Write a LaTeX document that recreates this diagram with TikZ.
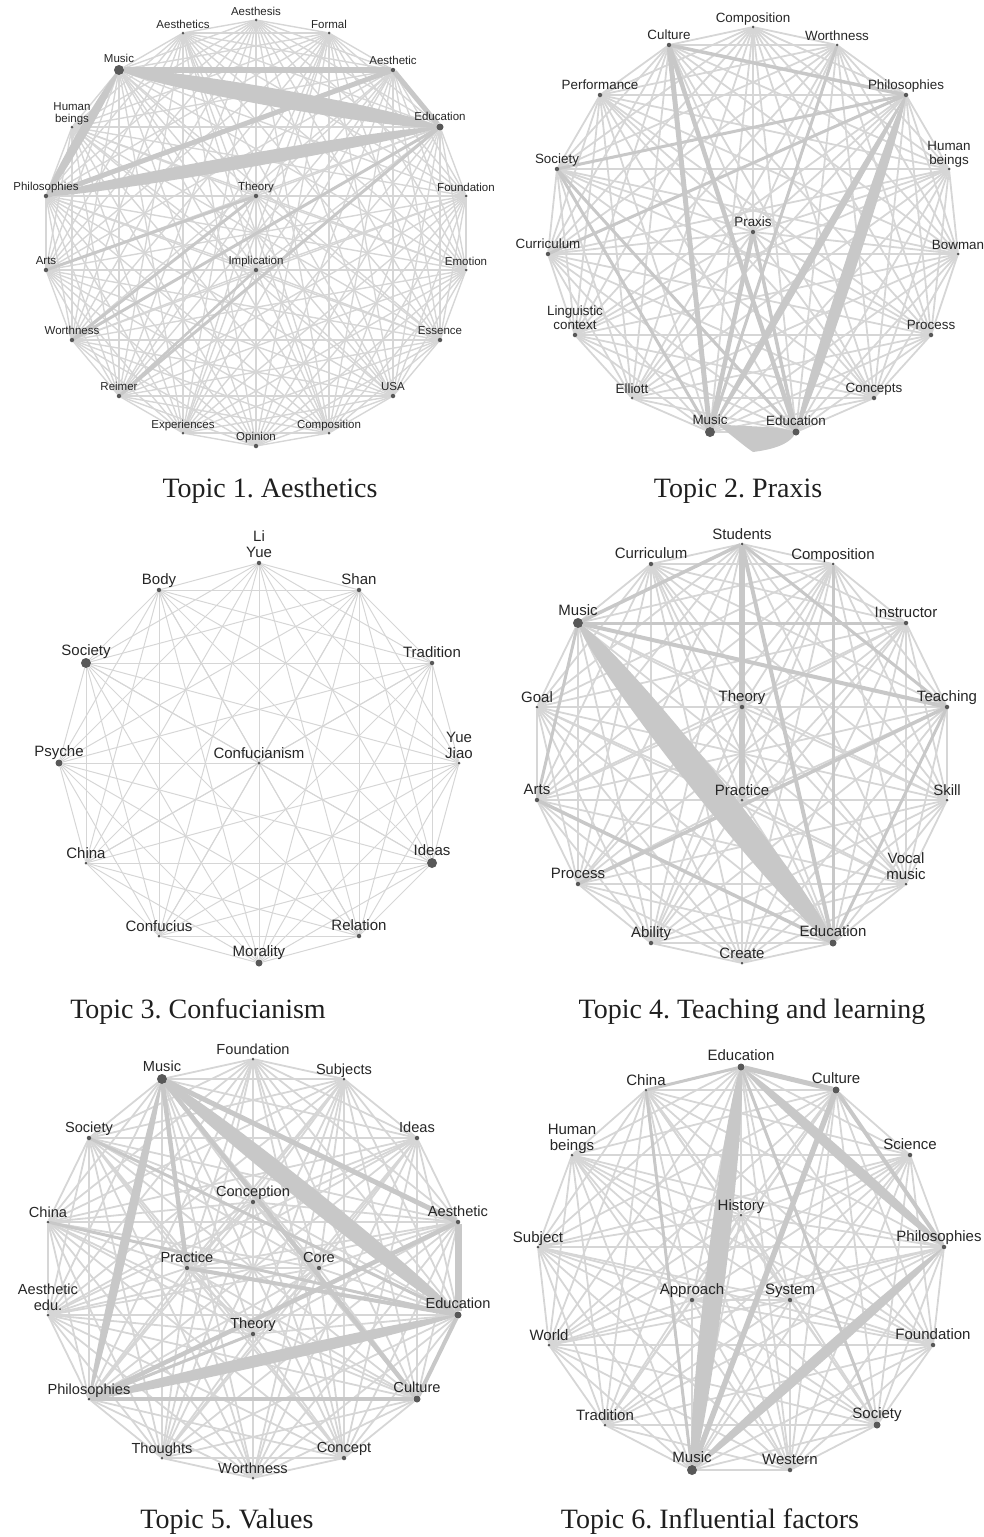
\documentclass[tikz,border=0pt]{standalone}
\usepackage{fontspec}
\setmainfont{Liberation Serif}
\setsansfont{Liberation Sans}
\usetikzlibrary{calc,backgrounds}
\frenchspacing

\definecolor{meshgray}{RGB}{214,214,214}
\definecolor{heavygray}{RGB}{200,200,200}
\definecolor{dotgray}{RGB}{88,88,88}
\definecolor{labelgray}{RGB}{38,38,38}

% tapered heavy edge between two nodes, #3 = bulge
\newcommand{\lensedge}[3]{%
  \fill[heavygray] (#1.center) .. controls ($(#1.center)!0.1!(#2.center)!#3!90:(#2.center)$) and ($(#1.center)!0.9!(#2.center)!#3!90:(#2.center)$) .. (#2.center) .. controls ($(#1.center)!0.9!(#2.center)!#3!-90:(#2.center)$) and ($(#1.center)!0.1!(#2.center)!#3!-90:(#2.center)$) .. (#1.center) -- cycle;}
% all pairs of a node list
\newcommand{\meshall}[1]{%
  \foreach \a [count=\i] in #1 {\foreach \b [count=\j] in #1 {\ifnum\i<\j \draw[mesh] (\a) -- (\b);\fi}}}

\begin{document}
\begin{tikzpicture}[x=1pt,y=1pt,yscale=-1,
  dot/.style={circle,fill=dotgray,inner sep=0pt,minimum size=4.5pt},
  dots/.style={dot,minimum size=3pt},
  dotm/.style={dot,minimum size=7pt},
  dotl/.style={dot,minimum size=10pt},
  every label/.style={text=labelgray,inner xsep=0pt,inner ysep=2.5pt,text depth=0pt,align=center},
  label position=above, label distance=0pt,
  mesh/.style={draw=meshgray,line width=1.8pt},
  heavy/.style={draw=heavygray},
  caption/.style={anchor=base,text=black!88,font=\fontsize{28}{30}\selectfont}]
\useasboundingbox (0,0) rectangle (983,1537);

% Topic 1
\begin{scope}[every label/.append style={font=\sffamily\fontsize{11.5}{12.5}\selectfont}]
\node[dots] (t1aesthesis) at (256,20) [label={Aesthesis}] {};
\node[dots] (t1formal) at (329,33) [label={Formal}] {};
\node[dot] (t1aesthetic) at (393,70) [label={Aesthetic}] {};
\node[dotm] (t1education) at (440,127) [label={Education}] {};
\node[dots] (t1foundation) at (466,196) [label={Foundation}] {};
\node[dots] (t1emotion) at (466,270) [label={Emotion}] {};
\node[dot] (t1essence) at (440,340) [label={Essence}] {};
\node[dot] (t1usa) at (393,396) [label={USA}] {};
\node[dots] (t1composition) at (329,433) [label={Composition}] {};
\node[dot] (t1opinion) at (256,446) [label={Opinion}] {};
\node[dots] (t1experiences) at (183,433) [label={Experiences}] {};
\node[dot] (t1reimer) at (119,396) [label={Reimer}] {};
\node[dot] (t1worthness) at (72,340) [label={Worthness}] {};
\node[dot] (t1arts) at (46,270) [label={Arts}] {};
\node[dot] (t1philosophies) at (46,196) [label={Philosophies}] {};
\node[dots] (t1humanbeings) at (72,127) [label={Human\\beings}] {};
\node[dotl] (t1music) at (119,70) [label={Music}] {};
\node[dots] (t1aesthetics) at (183,33) [label={Aesthetics}] {};
\node[dot] (t1theory) at (256,196) [label={Theory}] {};
\node[dot] (t1implication) at (256,270) [label={Implication}] {};
\end{scope}
\begin{scope}[on background layer,mesh/.append style={line width=1.4pt}]
\meshall{{t1aesthesis,t1formal,t1aesthetic,t1education,t1foundation,t1emotion,t1essence,t1usa,t1composition,t1opinion,t1experiences,t1reimer,t1worthness,t1arts,t1philosophies,t1humanbeings,t1music,t1aesthetics,t1theory,t1implication}}
\draw[heavy,line width=3pt] (t1education) -- (t1worthness);
\draw[heavy,line width=3pt] (t1education) -- (t1reimer);
\draw[heavy,line width=3pt] (t1theory) -- (t1worthness);
\draw[heavy,line width=3pt] (t1theory) -- (t1arts);
\draw[heavy,line width=2.5pt] (t1implication) -- (t1reimer);
\draw[heavy,line width=6pt] (t1music) -- (t1aesthetic);
\draw[heavy,line width=5pt] (t1philosophies) -- (t1aesthetic);
\draw[heavy,line width=5pt] (t1aesthetic) -- (t1education);
\lensedge{t1music}{t1philosophies}{6pt}
\lensedge{t1philosophies}{t1education}{9pt}
\lensedge{t1music}{t1education}{12pt}
\end{scope}

% Topic 2
\begin{scope}[every label/.append style={font=\sffamily\fontsize{13.4}{14.5}\selectfont}]
\node[dots] (t2composition) at (753,27) [label={Composition}] {};
\node[dots] (t2worthness) at (837,45) [label={Worthness}] {};
\node[dot] (t2philosophies) at (906,95) [label={Philosophies}] {};
\node[dots] (t2humanbeings) at (949,169) [label={Human\\beings}] {};
\node[dots] (t2bowman) at (958,254) [label={Bowman}] {};
\node[dot] (t2process) at (931,335) [label={Process}] {};
\node[dot] (t2concepts) at (874,398) [label={Concepts}] {};
\node[dotm] (t2education) at (796,432) [label={Education}] {};
\node[dotl] (t2music) at (710,432) [label={Music}] {};
\node[dots] (t2elliott) at (632,398) [label={Elliott}] {};
\node[dot] (t2linguistic) at (575,335) [label={Linguistic\\context}] {};
\node[dot] (t2curriculum) at (548,254) [label={Curriculum}] {};
\node[dot] (t2society) at (557,169) [label={Society}] {};
\node[dot] (t2performance) at (600,95) [label={Performance}] {};
\node[dot] (t2culture) at (669,45) [label={Culture}] {};
\node[dot] (t2praxis) at (753,232) [label={Praxis}] {};
\end{scope}
\begin{scope}[on background layer]
\meshall{{t2composition,t2worthness,t2philosophies,t2humanbeings,t2bowman,t2process,t2concepts,t2education,t2music,t2elliott,t2linguistic,t2curriculum,t2society,t2performance,t2culture,t2praxis}}
\draw[heavy,line width=3pt] (t2society) -- (t2education);
\draw[heavy,line width=3pt] (t2society) -- (t2music);
\draw[heavy,line width=3pt] (t2society) -- (t2philosophies);
\draw[heavy,line width=3pt] (t2curriculum) -- (t2philosophies);
\draw[heavy,line width=3pt] (t2worthness) -- (t2music);
\draw[heavy,line width=3.5pt] (t2culture) -- (t2philosophies);
\draw[heavy,line width=4.5pt] (t2culture) -- (t2education);
\draw[heavy,line width=5pt] (t2culture) -- (t2music);
\draw[heavy,line width=4.5pt] (t2praxis) -- (t2music);
\draw[heavy,line width=3.5pt] (t2praxis) -- (t2education);
\lensedge{t2philosophies}{t2music}{5pt}
\lensedge{t2philosophies}{t2education}{8pt}
\fill[heavygray] (t2education.center) .. controls (790,446) and (768,450) .. (753,452) .. controls (744,446) and (730,434) .. (717,424) .. controls (740,427) and (775,425) .. (t2education.center) -- cycle;
\end{scope}

% Topic 3
\begin{scope}[every label/.append style={font=\sffamily\fontsize{15}{16.5}\selectfont}]
\node[dot] (t3liyue) at (259,563) [label={Li\\Yue}] {};
\node[dot] (t3shan) at (359,590) [label={Shan}] {};
\node[dot] (t3tradition) at (432,663) [label={Tradition}] {};
\node[dots] (t3yuejiao) at (459,763) [label={Yue\\Jiao}] {};
\node[dotl] (t3ideas) at (432,863) [label={Ideas}] {};
\node[dot] (t3relation) at (359,936) [label={Relation}] {};
\node[dotm] (t3morality) at (259,963) [label={Morality}] {};
\node[dots] (t3confucius) at (159,936) [label={Confucius}] {};
\node[dots] (t3china) at (86,863) [label={China}] {};
\node[dotm] (t3psyche) at (59,763) [label={Psyche}] {};
\node[dotl] (t3society) at (86,663) [label={Society}] {};
\node[dot] (t3body) at (159,590) [label={Body}] {};
\node[dots] (t3confucianism) at (259,763) [label={Confucianism}] {};
\end{scope}
\begin{scope}[on background layer,mesh/.append style={line width=1pt,draw=black!16}]
\meshall{{t3liyue,t3shan,t3tradition,t3yuejiao,t3ideas,t3relation,t3morality,t3confucius,t3china,t3psyche,t3society,t3body,t3confucianism}}
\end{scope}

% Topic 4
\begin{scope}[every label/.append style={font=\sffamily\fontsize{15}{16.5}\selectfont}]
\node[dots] (t4students) at (742,544) [label={Students}] {};
\node[dots] (t4composition) at (833,564) [label={Composition}] {};
\node[dot] (t4instructor) at (906,623) [label={Instructor}] {};
\node[dot] (t4teaching) at (947,707) [label={Teaching}] {};
\node[dots] (t4skill) at (947,800) [label={Skill}] {};
\node[dots] (t4vocal) at (906,884) [label={Vocal\\music}] {};
\node[dotm] (t4education) at (833,943) [label={Education}] {};
\node[dots] (t4create) at (742,963) [label={Create}] {};
\node[dot] (t4ability) at (651,943) [label={Ability}] {};
\node[dot] (t4process) at (578,884) [label={Process}] {};
\node[dot] (t4arts) at (537,800) [label={Arts}] {};
\node[dots] (t4goal) at (537,707) [label={Goal}] {};
\node[dotl] (t4music) at (578,623) [label={Music}] {};
\node[dot] (t4curriculum) at (651,564) [label={Curriculum}] {};
\node[dot] (t4theory) at (742,707) [label={Theory}] {};
\node[dots] (t4practice) at (742,800) [label={Practice}] {};
\end{scope}
\begin{scope}[on background layer]
\meshall{{t4students,t4composition,t4instructor,t4teaching,t4skill,t4vocal,t4education,t4create,t4ability,t4process,t4arts,t4goal,t4music,t4curriculum,t4theory,t4practice}}
\draw[heavy,line width=3pt] (t4composition) -- (t4education);
\draw[heavy,line width=3pt] (t4teaching) -- (t4education);
\draw[heavy,line width=3pt] (t4students) -- (t4teaching);
\draw[heavy,line width=3pt] (t4music) -- (t4instructor);
\draw[heavy,line width=3pt] (t4music) -- (t4arts);
\draw[heavy,line width=3.5pt] (t4arts) -- (t4education);
\draw[heavy,line width=3.5pt] (t4process) -- (t4teaching);
\draw[heavy,line width=3.5pt] (t4music) -- (t4students);
\draw[heavy,line width=4pt] (t4music) -- (t4teaching);
\draw[heavy,line width=4pt] (t4students) -- (t4education);
\draw[heavy,line width=6pt] (t4students) -- (t4practice);
\lensedge{t4music}{t4education}{19pt}
\end{scope}

% Topic 5
\begin{scope}[every label/.append style={font=\sffamily\fontsize{14.6}{16}\selectfont}]
\node[dots] (t5foundation) at (253,1059) [label={Foundation}] {};
\node[dots] (t5subjects) at (344,1079) [label={Subjects}] {};
\node[dot] (t5ideas) at (417,1138) [label={Ideas}] {};
\node[dot] (t5aesthetic) at (458,1222) [label={Aesthetic}] {};
\node[dotm] (t5education) at (458,1315) [label={Education}] {};
\node[dotm] (t5culture) at (417,1399) [label={Culture}] {};
\node[dot] (t5concept) at (344,1458) [label={Concept}] {};
\node[dots] (t5worthness) at (253,1478) [label={Worthness}] {};
\node[dots] (t5thoughts) at (162,1458) [label={Thoughts}] {};
\node[dots] (t5philosophies) at (89,1399) [label={Philosophies}] {};
\node[dots] (t5aestheticedu) at (48,1315) [label={Aesthetic\\edu.}] {};
\node[dots] (t5china) at (48,1222) [label={China}] {};
\node[dot] (t5society) at (89,1138) [label={Society}] {};
\node[dotl] (t5music) at (162,1079) [label={Music}] {};
\node[dot] (t5conception) at (253,1202) [label={Conception}] {};
\node[dot] (t5practice) at (187,1268) [label={Practice}] {};
\node[dot] (t5core) at (319,1268) [label={Core}] {};
\node[dot] (t5theory) at (253,1334) [label={Theory}] {};
\end{scope}
\begin{scope}[on background layer]
\meshall{{t5foundation,t5subjects,t5ideas,t5aesthetic,t5education,t5culture,t5concept,t5worthness,t5thoughts,t5philosophies,t5aestheticedu,t5china,t5society,t5music,t5conception,t5practice,t5core,t5theory}}
\draw[heavy,line width=3pt] (t5china) -- (t5education);
\draw[heavy,line width=3pt] (t5society) -- (t5education);
\draw[heavy,line width=3pt] (t5philosophies) -- (t5theory);
\draw[heavy,line width=4pt] (t5education) -- (t5culture);
\draw[heavy,line width=4pt] (t5practice) -- (t5education);
\draw[heavy,line width=4pt] (t5philosophies) -- (t5culture);
\draw[heavy,line width=4.5pt] (t5philosophies) -- (t5aesthetic);
\draw[heavy,line width=4.5pt] (t5music) -- (t5practice);
\draw[heavy,line width=4.5pt] (t5music) -- (t5culture);
\draw[heavy,line width=5pt] (t5music) -- (t5aesthetic);
\draw[heavy,line width=7pt] (t5aesthetic) -- (t5education);
\lensedge{t5music}{t5philosophies}{6pt}
\lensedge{t5philosophies}{t5education}{8pt}
\lensedge{t5music}{t5education}{12pt}
\end{scope}

% Topic 6
\begin{scope}[every label/.append style={font=\sffamily\fontsize{15}{16.5}\selectfont}]
\node[dotm] (t6education) at (741,1067) [label={Education}] {};
\node[dotm] (t6culture) at (836,1090) [label={Culture}] {};
\node[dot] (t6science) at (910,1155) [label={Science}] {};
\node[dot] (t6philosophies) at (944,1247) [label={[xshift=-5pt]Philosophies}] {};
\node[dot] (t6foundation) at (933,1345) [label={Foundation}] {};
\node[dotm] (t6society) at (877,1425) [label={Society}] {};
\node[dot] (t6western) at (790,1470) [label={Western}] {};
\node[dotl] (t6music) at (692,1470) [label={Music}] {};
\node[dots] (t6tradition) at (605,1425) [label={Tradition}] {};
\node[dots] (t6world) at (549,1345) [label={World}] {};
\node[dots] (t6subject) at (538,1247) [label={Subject}] {};
\node[dots] (t6humanbeings) at (572,1155) [label={Human\\beings}] {};
\node[dots] (t6china) at (646,1090) [label={China}] {};
\node[dots] (t6history) at (741,1215) [label={History}] {};
\node[dot] (t6approach) at (692,1300) [label={Approach}] {};
\node[dot] (t6system) at (790,1300) [label={System}] {};
\end{scope}
\begin{scope}[on background layer]
\meshall{{t6education,t6culture,t6science,t6philosophies,t6foundation,t6society,t6western,t6music,t6tradition,t6world,t6subject,t6humanbeings,t6china,t6history,t6approach,t6system}}
\draw[heavy,line width=3pt] (t6china) -- (t6music);
\draw[heavy,line width=3pt] (t6china) -- (t6education);
\draw[heavy,line width=3pt] (t6education) -- (t6society);
\draw[heavy,line width=4pt] (t6culture) -- (t6philosophies);
\draw[heavy,line width=5pt] (t6education) -- (t6culture);
\draw[heavy,line width=5.5pt] (t6culture) -- (t6music);
\lensedge{t6education}{t6philosophies}{7pt}
\lensedge{t6philosophies}{t6music}{7pt}
\lensedge{t6education}{t6music}{13pt}
\end{scope}

% captions
\node[caption] (cap1) at (270,497) {Topic 1. Aesthetics};
\node[caption] (cap2) at (738,497) {Topic 2. Praxis};
\node[caption] (cap3) at (198,1018) {Topic 3. Confucianism};
\node[caption] (cap4) at (752,1018) {Topic 4. Teaching and learning};
\node[caption] (cap5) at (227,1528) {Topic 5. Values};
\node[caption] (cap6) at (710,1528) {Topic 6. Influential factors};

\end{tikzpicture}
\end{document}
